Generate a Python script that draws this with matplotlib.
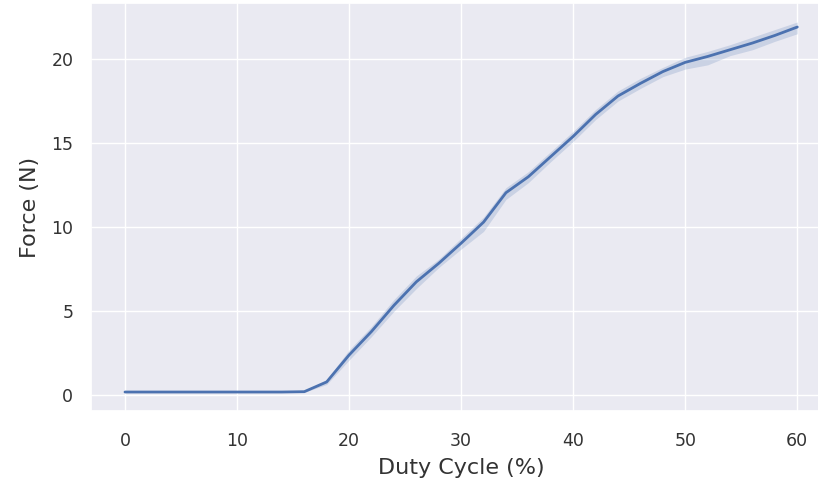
import numpy as np
import matplotlib
matplotlib.use("Agg")
import matplotlib.pyplot as plt
import seaborn as sns

sns.set_theme(style="darkgrid")

# duty cycle (%) and mean force (N) with confidence band
duty = [0, 2, 4, 6, 8, 10, 12, 14, 16, 18, 20, 22, 24, 26, 28, 30,
        32, 34, 36, 38, 40, 42, 44, 46, 48, 50, 52, 54, 56, 58, 60]
force = [0.2, 0.2, 0.2, 0.2, 0.2, 0.2, 0.2, 0.2, 0.22, 0.8, 2.4,
         3.8, 5.35, 6.75, 7.85, 9.05, 10.3, 12.05, 13.0, 14.2, 15.4, 16.7,
         17.8, 18.55, 19.25, 19.8, 20.15, 20.55, 20.95, 21.4, 21.9]
force_lo = [0.17, 0.17, 0.17, 0.17, 0.17, 0.17, 0.17, 0.17, 0.18, 0.65,
            2.1, 3.5, 5.0, 6.35, 7.6, 8.7, 9.75, 11.65, 12.65, 13.9, 15.1,
            16.4, 17.5, 18.25, 18.95, 19.4, 19.65, 20.2, 20.55, 21.05, 21.5]
force_hi = [0.23, 0.23, 0.23, 0.23, 0.23, 0.23, 0.23, 0.23, 0.26, 0.95,
            2.7, 4.1, 5.7, 7.1, 8.1, 9.35, 10.6, 12.35, 13.3, 14.5, 15.7,
            17.0, 18.1, 18.85, 19.5, 20.1, 20.45, 20.85, 21.3, 21.75, 22.2]

fig, ax = plt.subplots(figsize=(8.18, 4.87), dpi=100)
ax.fill_between(duty, force_lo, force_hi, color="#4c72b0", alpha=0.2, lw=0)
ax.plot(duty, force, color="#4c72b0", lw=2.0)

ax.set_xlim(-3, 63)
ax.set_ylim(-0.93, 23.31)
ax.set_xticks([0, 10, 20, 30, 40, 50, 60])
ax.set_yticks([0, 5, 10, 15, 20])
ax.tick_params(labelsize=12.5, pad=7, colors="#333333")
ax.tick_params(axis="x", pad=9)
ax.set_xlabel("Duty Cycle (%)", fontsize=16, color="#333333", labelpad=6)
ax.set_ylabel("Force (N)", fontsize=16, color="#333333", labelpad=8)

# axes run slightly past the right edge, as in the cropped original
fig.subplots_adjust(left=0.1117, right=1.0158, top=0.9932, bottom=0.156)
fig.savefig("out.png", dpi=100)
